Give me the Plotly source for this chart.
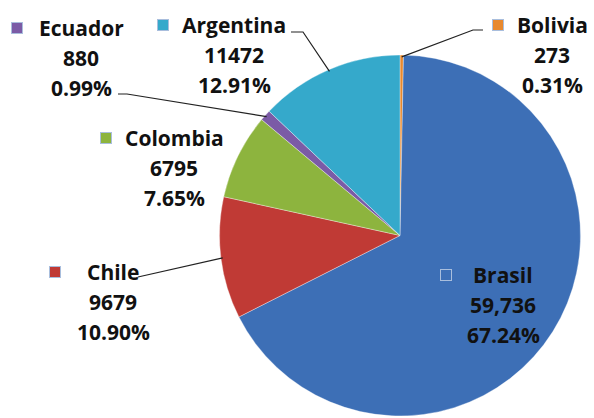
import math
import plotly.graph_objects as go

# ---- data ----
countries = ["Bolivia", "Brasil", "Chile", "Colombia", "Ecuador", "Argentina"]
values = [273, 59736, 9679, 6795, 880, 11472]
value_labels = ["273", "59,736", "9679", "6795", "880", "11472"]
colors = ["#E8892E", "#3D6FB6", "#C03A35", "#8DB43E", "#7B5BA6", "#35A9CB"]

W, H = 594, 418
# pie domain (pixels)
PX0, PX1, PY0, PY1 = 218, 582, 55, 416
cx, cy = (PX0 + PX1) / 2, (PY0 + PY1) / 2
R = min(PX1 - PX0, PY1 - PY0) / 2

def px(x):
    return x / W

def py(y):
    return 1 - y / H

fig = go.Figure(go.Pie(
    labels=countries, values=values, sort=False, direction="clockwise",
    rotation=0, textinfo="none", hoverinfo="label+value+percent",
    marker=dict(colors=colors, line=dict(color="rgba(255,255,255,0.35)", width=1)),
    domain=dict(x=[px(PX0), px(PX1)], y=[py(PY1), py(PY0)]),
    showlegend=False,
))

total = sum(values)
mid_angles = {}
acc = 0
for c, v in zip(countries, values):
    mid_angles[c] = (acc + v / 2) / total * 2 * math.pi
    acc += v

def edge(c, f=1.0):
    a = mid_angles[c]
    return cx + R * f * math.sin(a), cy - R * f * math.cos(a)

# label layout positions (pixels): centre x, first-line y, key x
label_pos = {
    "Ecuador": (81, 28, 17),
    "Argentina": (234, 25, 163),
    "Bolivia": (552, 25, 498),
    "Colombia": (174, 138, 106),
    "Chile": (113, 272, 55),
    "Brasil": (503, 275, 446),
}
LINE = 30
font = dict(family="Open Sans", size=21, color="#111111", weight="bold")

annotations = []
shapes = []
pct = {c: v / total * 100 for c, v in zip(countries, values)}
for c, vl, col in zip(countries, value_labels, colors):
    x, y, kx = label_pos[c]
    lines = [c, vl, f"{pct[c]:.2f}%"]
    for i, t in enumerate(lines):
        annotations.append(dict(
            x=px(x), y=py(y + i * LINE), xref="paper", yref="paper",
            text=t, showarrow=False, xanchor="center", yanchor="middle", font=font,
        ))
    # legend key square
    annotations.append(dict(
        x=px(kx), y=py(y), xref="paper", yref="paper", text=" ",
        showarrow=False, xanchor="center", yanchor="middle",
        width=10, height=10, bgcolor=col, borderwidth=1,
        bordercolor="#A9BEDD", borderpad=0,
        font=dict(size=4),
    ))

# leader lines: start points (pixels) with optional elbow
leaders = {
    "Ecuador": [(118, 94), (127, 94)],
    "Argentina": [(291, 32), (303, 32)],
    "Bolivia": [(483, 30), (473, 30)],
    "Chile": [(138, 277)],
}
for c, pts in leaders.items():
    ex, ey = edge(c, 0.99)
    allpts = pts + [(ex, ey)]
    d = "M " + " L ".join(f"{px(a):.5f},{py(b):.5f}" for a, b in allpts)
    shapes.append(dict(type="path", xref="paper", yref="paper", path=d,
                       line=dict(color="#222222", width=1.2)))

fig.update_layout(
    width=W, height=H, margin=dict(l=0, r=0, t=0, b=0),
    paper_bgcolor="white", plot_bgcolor="white",
    annotations=annotations, shapes=shapes,
)
fig.write_html("out.html")
